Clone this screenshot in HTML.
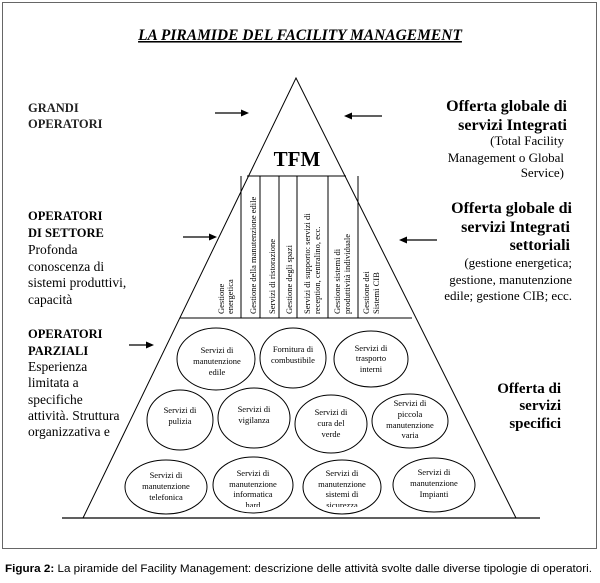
<!DOCTYPE html>
<html><head><meta charset="utf-8"><style>
html,body{margin:0;padding:0;background:#fff}
svg{display:block}
.s{font-family:"Liberation Serif",serif}
</style></head><body>
<svg width="600" height="583" viewBox="0 0 600 583" xmlns="http://www.w3.org/2000/svg">
<defs>
<clipPath id="cb"><rect x="0" y="0" width="600" height="507"/></clipPath>
</defs>
<rect x="2.5" y="2.5" width="594" height="546" fill="#fff" stroke="#666" stroke-width="1"/>
<g class="s" font-family="Liberation Serif, serif">
<text x="300" y="40" text-anchor="middle" font-size="15.5" font-weight="bold" font-style="italic" text-decoration="underline">LA PIRAMIDE DEL FACILITY MANAGEMENT</text>

<!-- pyramid -->
<polyline points="83,518 296,78 516,518" fill="none" stroke="#000" stroke-width="1"/>
<line x1="62" y1="518" x2="540" y2="518" stroke="#000" stroke-width="1.2"/>
<line x1="247" y1="176" x2="346" y2="176" stroke="#000"/>
<line x1="180" y1="318" x2="412" y2="318" stroke="#000"/>
<g stroke="#000">
<line x1="241" y1="176" x2="241" y2="318"/>
<line x1="260" y1="176" x2="260" y2="318"/>
<line x1="279" y1="176" x2="279" y2="318"/>
<line x1="297" y1="176" x2="297" y2="318"/>
<line x1="328" y1="176" x2="328" y2="318"/>
<line x1="358" y1="176" x2="358" y2="318"/>
</g>
<text x="297" y="166" text-anchor="middle" font-size="21" font-weight="bold">TFM</text>

<g font-size="8.5">
<text transform="translate(224,314) rotate(-90)">Gestione</text>
<text transform="translate(233,314) rotate(-90)">energetica</text>
<text transform="translate(256,314) rotate(-90)">Gestione della manutenzione edile</text>
<text transform="translate(275,314) rotate(-90)">Servizi di ristorazione</text>
<text transform="translate(292,314) rotate(-90)">Gestione degli spazi</text>
<text transform="translate(310,314) rotate(-90)">Servizi di  supporto: servizi di</text>
<text transform="translate(320,314) rotate(-90)">reception, centralino, ecc.</text>
<text transform="translate(340,314) rotate(-90)">Gestione sistemi di</text>
<text transform="translate(350,314) rotate(-90)">produttività individuale</text>
<text transform="translate(369,314) rotate(-90)">Gestione dei</text>
<text transform="translate(379,314) rotate(-90)">Sistemi CIB</text>
</g>

<!-- ellipses -->
<g fill="none" stroke="#000" stroke-width="1">
<ellipse cx="216" cy="359" rx="39" ry="31"/>
<ellipse cx="293" cy="358" rx="33" ry="30"/>
<ellipse cx="371" cy="359" rx="37" ry="28"/>
<ellipse cx="180" cy="420" rx="33" ry="30"/>
<ellipse cx="254" cy="418" rx="36" ry="30"/>
<ellipse cx="331" cy="424" rx="36" ry="29"/>
<ellipse cx="410" cy="421" rx="38" ry="27"/>
<ellipse cx="166" cy="487" rx="41" ry="27"/>
<ellipse cx="253" cy="485" rx="40" ry="28"/>
<ellipse cx="342" cy="487" rx="39" ry="27"/>
<ellipse cx="434" cy="485" rx="41" ry="27"/>
</g>
<g font-size="8.5" text-anchor="middle" clip-path="url(#cb)">
<text x="217" y="353">Servizi di</text><text x="217" y="364">manutenzione</text><text x="217" y="375">edile</text>
<text x="293" y="352">Fornitura di</text><text x="293" y="363">combustibile</text>
<text x="371" y="351">Servizi di</text><text x="371" y="361">trasporto</text><text x="371" y="372">interni</text>
<text x="180" y="413">Servizi di</text><text x="180" y="424">pulizia</text>
<text x="254" y="412">Servizi di</text><text x="254" y="423">vigilanza</text>
<text x="331" y="415">Servizi di</text><text x="331" y="426">cura del</text><text x="331" y="437">verde</text>
<text x="410" y="406">Servizi di</text><text x="410" y="417">piccola</text><text x="410" y="428">manutenzione</text><text x="410" y="438">varia</text>
<text x="166" y="478">Servizi di</text><text x="166" y="489">manutenzione</text><text x="166" y="500">telefonica</text>
<text x="253" y="476">Servizi di</text><text x="253" y="487">manutenzione</text><text x="253" y="497">informatica</text><text x="253" y="508">hard</text>
<text x="342" y="476">Servizi di</text><text x="342" y="487">manutenzione</text><text x="342" y="497">sistemi di</text><text x="342" y="508">sicurezza</text>
<text x="434" y="475">Servizi di</text><text x="434" y="486">manutenzione</text><text x="434" y="497">Impianti</text>
</g>

<!-- arrows -->
<g stroke="#000" stroke-width="1.3">
<line x1="215" y1="113" x2="244" y2="113"/>
<line x1="350" y1="116" x2="382" y2="116"/>
<line x1="183" y1="237" x2="212" y2="237"/>
<line x1="405" y1="240" x2="437" y2="240"/>
<line x1="129" y1="345" x2="148" y2="345"/>
</g>
<g fill="#000">
<polygon points="249,113 241,109.5 241,116.5"/>
<polygon points="344,116 352,112.5 352,119.5"/>
<polygon points="217,237 209,233.5 209,240.5"/>
<polygon points="399,240 407,236.5 407,243.5"/>
<polygon points="154,345 146,341.5 146,348.5"/>
</g>

<!-- left texts -->
<g font-size="13.5">
<text x="28" y="112" font-weight="bold" font-size="12.5" fill="#222">GRANDI</text>
<text x="28" y="128" font-weight="bold" font-size="12.5" fill="#222">OPERATORI</text>
<text x="28" y="220" font-weight="bold" font-size="12.5">OPERATORI</text>
<text x="28" y="237" font-weight="bold" font-size="12.5">DI SETTORE</text>
<text x="28" y="254">Profonda</text>
<text x="28" y="271">conoscenza di</text>
<text x="28" y="287">sistemi produttivi,</text>
<text x="28" y="304">capacità</text>
<text x="28" y="338" font-weight="bold" font-size="12.5">OPERATORI</text>
<text x="28" y="355" font-weight="bold" font-size="12.5">PARZIALI</text>
<text x="28" y="371">Esperienza</text>
<text x="28" y="387">limitata a</text>
<text x="28" y="404">specifiche</text>
<text x="28" y="420">attività. Struttura</text>
<text x="28" y="436">organizzativa e</text>
</g>

<!-- right texts -->
<g text-anchor="end">
<text x="567" y="111" font-size="16" font-weight="bold">Offerta globale di</text>
<text x="567" y="130" font-size="16" font-weight="bold">servizi Integrati</text>
<text x="564" y="145" font-size="13">(Total Facility</text>
<text x="564" y="162" font-size="13">Management o Global</text>
<text x="564" y="177" font-size="13">Service)</text>
<text x="572" y="213" font-size="16" font-weight="bold">Offerta globale di</text>
<text x="570" y="232" font-size="16" font-weight="bold">servizi Integrati</text>
<text x="570" y="250" font-size="16" font-weight="bold">settoriali</text>
<text x="572" y="267" font-size="13">(gestione energetica;</text>
<text x="572" y="284" font-size="13">gestione, manutenzione</text>
<text x="572" y="300" font-size="13">edile; gestione CIB; ecc.</text>
<text x="561" y="393" font-size="15" font-weight="bold">Offerta di</text>
<text x="561" y="410" font-size="15" font-weight="bold">servizi</text>
<text x="561" y="428" font-size="15" font-weight="bold">specifici</text>
</g>
</g>
<text x="5" y="572" font-family="Liberation Sans, sans-serif" font-size="11" textLength="587" lengthAdjust="spacingAndGlyphs"><tspan font-weight="bold">Figura 2:</tspan> La piramide del Facility Management: descrizione delle attività svolte dalle diverse tipologie di operatori.</text>
</svg>
</body></html>
